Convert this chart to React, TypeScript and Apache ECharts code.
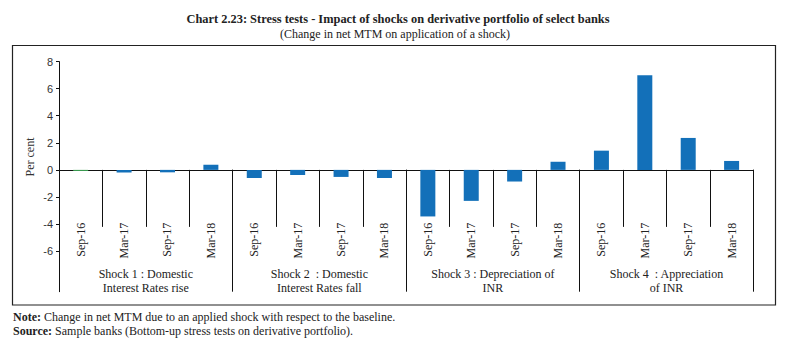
import React, { useEffect, useRef } from "react";
import * as echarts from "echarts";

const periods = ["Sep-16", "Mar-17", "Sep-17", "Mar-18"];
const shockGroups = [
  "Shock 1 : Domestic\nInterest Rates rise",
  "Shock 2  : Domestic\nInterest Rates fall",
  "Shock 3 : Depreciation of\nINR",
  "Shock 4  : Appreciation\nof INR",
];
const shock1 = [-0.08, -0.2, -0.18, 0.38];
const shock2 = [-0.6, -0.38, -0.52, -0.6];
const shock3 = [-3.44, -2.29, -0.86, 0.6];
const shock4 = [1.42, 7.0, 2.36, 0.66];
const yTicks = [-6, -4, -2, 0, 2, 4, 6, 8];

const SERIF = "'Liberation Serif', 'DejaVu Serif', serif";

export default function App() {
  const ref = useRef<HTMLDivElement>(null);
  useEffect(() => {
    if (!ref.current) return;
    const chart = echarts.init(ref.current, null, { renderer: "svg" });
    const allValues = [shock1, shock2, shock3, shock4];
    const categories: string[] = [];
    const data: any[] = [];
    allValues.forEach((vals, gi) => {
      vals.forEach((v, pi) => {
        categories.push(gi + "|" + periods[pi]);
        if (gi === 0 && pi === 0) {
          data.push({ value: v, itemStyle: { color: "#3c9f52" } });
        } else {
          data.push(v);
        }
      });
    });
    const gridBox = { left: 59, right: 34.7, top: 61.6, bottom: 59.3, outerBoundsMode: "none", containLabel: false };
    chart.setOption({
      animation: false,
      grid: [gridBox, { ...gridBox }],
      xAxis: [
        {
          type: "category",
          gridIndex: 0,
          data: categories,
          axisLine: { onZero: true, lineStyle: { color: "#111", width: 1 } },
          axisTick: { show: true, length: 57, interval: 0, lineStyle: { color: "#111" } },
          axisLabel: {
            interval: 0,
            rotate: 90,
            margin: -69,
            hideOverlap: false,
            fontFamily: SERIF,
            fontSize: 12,
            color: "#222",
            formatter: (v: string) => v.split("|")[1],
          },
        },
        {
          type: "category",
          gridIndex: 1,
          data: shockGroups,
          position: "bottom",
          axisLine: { show: false, onZero: false },
          axisTick: { show: true, inside: true, length: 122, interval: 0, lineStyle: { color: "#111" } },
          axisLabel: {
            inside: true,
            interval: 0,
            margin: -3,
            fontFamily: SERIF,
            fontSize: 12,
            lineHeight: 13.5,
            color: "#222",
          },
        },
      ],
      yAxis: [
        {
          type: "value",
          gridIndex: 0,
          min: -9,
          max: 8,
          splitLine: { show: false },
          axisLine: { show: true, lineStyle: { color: "#111" } },
          axisTick: { show: true, length: 3, customValues: yTicks, lineStyle: { color: "#111" } },
          axisLabel: {
            customValues: yTicks,
            margin: 6,
            fontFamily: "'Liberation Sans', 'DejaVu Sans', sans-serif",
            fontSize: 11,
            color: "#333",
          },
        },
        {
          type: "value",
          gridIndex: 1,
          min: 0,
          max: 1,
          show: false,
        },
      ],
      series: [
        {
          type: "bar",
          xAxisIndex: 0,
          yAxisIndex: 0,
          data: data,
          barWidth: 15,
          itemStyle: { color: "#1370b9" },
        },
      ],
      graphic: [
        {
          type: "rect",
          shape: { x: 12.5, y: 45.5, width: 763, height: 259.5 },
          style: { fill: "none", stroke: "#222", lineWidth: 1.2 },
          silent: true,
        },
        {
          type: "text",
          x: 398,
          y: 19,
          style: {
            text: "Chart 2.23: Stress tests - Impact of shocks on derivative portfolio of select banks",
            fontFamily: SERIF,
            fontWeight: "bold",
            fontSize: 12.4,
            fill: "#222",
            align: "center",
            verticalAlign: "middle",
          },
        },
        {
          type: "text",
          x: 395,
          y: 34,
          style: {
            text: "(Change in net MTM on application of a shock)",
            fontFamily: SERIF,
            fontSize: 12,
            fill: "#222",
            align: "center",
            verticalAlign: "middle",
          },
        },
        {
          type: "text",
          x: 30,
          y: 157,
          rotation: Math.PI / 2,
          style: {
            text: "Per cent",
            fontFamily: SERIF,
            fontSize: 12,
            fill: "#333",
            align: "center",
            verticalAlign: "middle",
          },
        },
        {
          type: "text",
          x: 13,
          y: 317,
          style: {
            text: "{b|Note:} Change in net MTM due to an applied shock with respect to the baseline.",
            rich: { b: { fontWeight: "bold", fontFamily: SERIF, fontSize: 12, fill: "#222" } },
            fontFamily: SERIF,
            fontSize: 12,
            fill: "#222",
            verticalAlign: "middle",
          },
        },
        {
          type: "text",
          x: 13,
          y: 331,
          style: {
            text: "{b|Source:} Sample banks (Bottom-up stress tests on derivative portfolio).",
            rich: { b: { fontWeight: "bold", fontFamily: SERIF, fontSize: 12, fill: "#222" } },
            fontFamily: SERIF,
            fontSize: 12,
            fill: "#222",
            verticalAlign: "middle",
          },
        },
      ],
    });
    return () => chart.dispose();
  }, []);
  return (
    <div
      ref={ref}
      style={{ position: "fixed", left: 0, top: 0, width: 788, height: 351, background: "#fff" }}
    />
  );
}
